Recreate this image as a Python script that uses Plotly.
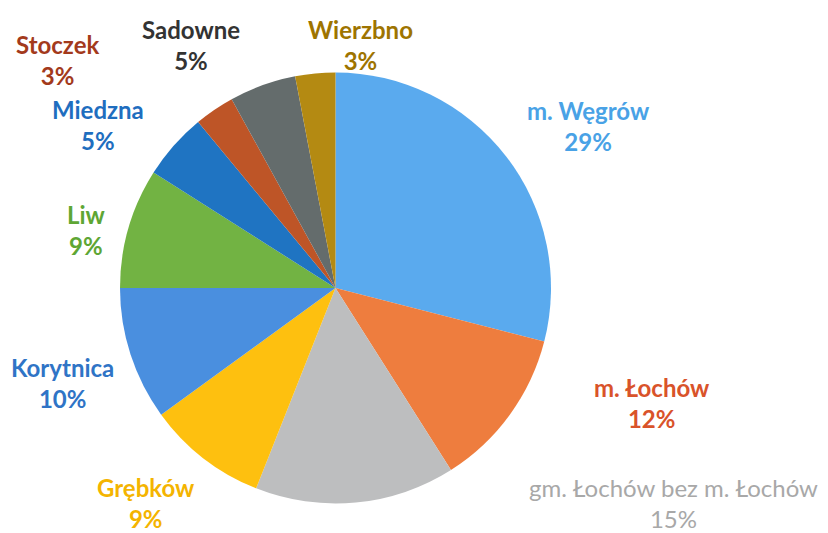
import plotly.graph_objects as go

labels = ["m. Węgrów", "m. Łochów", "gm. Łochów bez m. Łochów", "Grębków", "Korytnica",
          "Liw", "Miedzna", "Stoczek", "Sadowne", "Wierzbno"]
values = [29, 12, 15, 9, 10, 9, 5, 3, 5, 3]
slice_colors = ["#5AAAEE", "#EE7D3E", "#BDBEBF", "#FEC00F", "#4A8FDF",
                "#72B343", "#1F74C2", "#BE5527", "#646C6C", "#B48A12"]
text_colors = ["#49A2E6", "#D9532A", "#A8A8A8", "#F4B400", "#2F74C6",
               "#5EA634", "#1F6EBF", "#A33A1C", "#333333", "#9E7400"]
# label anchor positions (pixels in the browser window): layout only
label_px = [(588, 126), (652, 403), (673, 503), (146, 503), (62, 383),
            (86, 230), (98, 125), (57, 60), (191, 45), (360, 45)]

OFF = 8  # default page body margin
W, H = 828 - OFF, 533 - OFF
cx, cy, r = 335.5 - OFF, 288 - OFF, 215.5

fig = go.Figure(go.Pie(
    labels=labels, values=values, sort=False, direction="clockwise", rotation=0,
    marker=dict(colors=slice_colors, line=dict(width=0)),
    textinfo="none", hoverinfo="label+percent", showlegend=False,
    domain=dict(x=[(cx - r) / W, (cx + r) / W], y=[1 - (cy + r) / H, 1 - (cy - r) / H]),
))

total = sum(values)
for lab, v, c, (px, py) in zip(labels, values, text_colors, label_px):
    bold = lab != "gm. Łochów bez m. Łochów"
    pct = f"{round(100 * v / total)}%"
    txt = f"<b>{lab}<br>{pct}</b>" if bold else f"{lab}<br>{pct}"
    fig.add_annotation(x=(px - OFF) / W, y=1 - (py - OFF) / H, xref="paper", yref="paper",
                       text=txt, showarrow=False, xanchor="center", yanchor="middle",
                       align="center",
                       font=dict(family="Lato, Open Sans, sans-serif", size=24, color=c))

fig.update_layout(width=W, height=H, margin=dict(l=0, r=0, t=0, b=0),
                  paper_bgcolor="white", plot_bgcolor="white")
fig.write_html("out.html")
